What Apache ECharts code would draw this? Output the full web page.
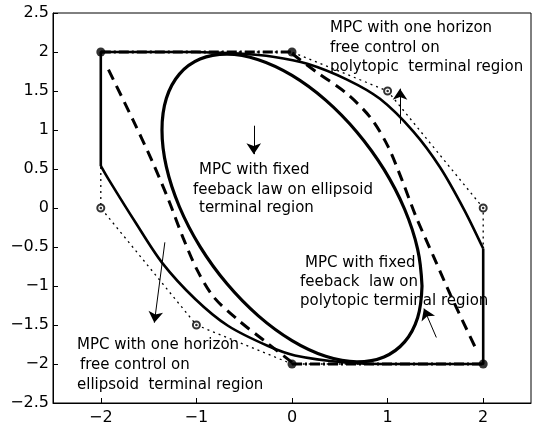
<!DOCTYPE html>
<html><head><meta charset="utf-8">
<script src="https://cdn.jsdelivr.net/npm/echarts@6/dist/echarts.min.js"></script>
<style>html,body{margin:0;padding:0;background:#fff}#c{width:536px;height:428px}</style>
</head><body><div id="c"></div>
<script>
// ---- data ----
const xTicks = [-2, -1, 0, 1, 2];
const polytope = [[-2,2],[0,2],[1,1.5],[2,0],[2,-2],[0,-2],[-1,-1.5],[-2,0],[-2,2]];
const ringVertices = [[1,1.5],[2,0],[-2,0],[-1,-1.5]];
const solidVertices = [[-2,2],[0,2],[2,-2],[0,-2]];
const outerEdgeLeft = [[-2,0.54],[-2,2],[-1,2]];
const outerEdgeRight = [[2,-0.52],[2,-2],[1,-2]];
const outerCurveUpper = [[-1,2],[-0.55,1.98],[-0.2,1.94],[0.16,1.85],[0.57,1.65],[0.92,1.40],[1.27,0.98],[1.55,0.52],[1.80,-0.02],[2,-0.52]];
const outerCurveLower = [[1,-2],[0.55,-1.98],[0.03,-1.89],[-0.25,-1.77],[-0.67,-1.51],[-1.01,-1.17],[-1.36,-0.70],[-1.64,-0.18],[-1.92,0.37],[-2,0.54]];
const ellipse = [[1.36,-1.0],[1.314,-0.526],[1.178,-0.016],[0.962,0.495],[0.68,0.972],[0.352,1.383],[0,1.70],[-0.352,1.901],[-0.68,1.972],[-0.962,1.909],[-1.178,1.716],[-1.314,1.406],[-1.36,1.0],[-1.314,0.526],[-1.178,0.016],[-0.962,-0.495],[-0.68,-0.972],[-0.352,-1.383],[0,-1.70],[0.352,-1.901],[0.68,-1.972],[0.962,-1.909],[1.178,-1.716],[1.314,-1.406],[1.36,-1.0]];
const dashedUpper = [[0,1.98],[0.26,1.74],[0.57,1.47],[0.82,1.16],[1.0,0.80],[1.15,0.36],[1.30,-0.12],[1.48,-0.62],[1.66,-1.12],[1.93,-1.82]];
const dashedLower = [[0,-1.98],[-0.26,-1.73],[-0.56,-1.44],[-0.82,-1.14],[-0.99,-0.80],[-1.14,-0.38],[-1.29,0.10],[-1.47,0.62],[-1.66,1.12],[-1.93,1.80]];
const dashDotTop = [[-2,2],[0,2]];
const dashDotBottom = [[0,-2],[2,-2]];
const arrows = [
  [[-0.40,1.055],[-0.40,0.69]],
  [[1.13,1.08],[1.13,1.53]],
  [[-1.33,-0.44],[-1.44,-1.47]],
  [[1.51,-1.66],[1.38,-1.29]]
];
const annotUR = ["MPC with one horizon","free control on","polytopic  terminal region"];
const annotC  = ["MPC with fixed","feeback law on ellipsoid","terminal region"];
const annotLR = ["MPC with fixed","feeback  law on","polytopic terminal region"];
const annotLL = ["MPC with one horizon","free control on","ellipsoid  terminal region"];

// ---- layout (pixel positions of annotation lines) ----
const posUR = [[330,28],[330,48],[330,67]];
const posC  = [[199,170],[193,190],[199,208]];
const posLR = [[305,263],[300,282],[300,301]];
const posLL = [[77,345],[80,365],[77,385]];

const FONT = '"DejaVu Sans", "Liberation Sans", sans-serif';
const fmt = v => (v < 0 ? '\u2212' + String(-v) : String(v));

function lineS(data, opts) {
  return Object.assign({
    type: 'line', data: data, symbol: 'none', silent: true, animation: false,
    lineStyle: { color: '#000', width: 2.6, type: 'solid' }, z: 3
  }, opts);
}

const texts = [];
[[annotUR,posUR],[annotC,posC],[annotLR,posLR],[annotLL,posLL]].forEach(([lines,pos]) => {
  lines.forEach((t,i) => texts.push({
    type: 'text', x: pos[i][0], y: pos[i][1], z: 100,
    style: { text: t, fill: '#000', fontSize: 15, fontFamily: FONT, align: 'left', verticalAlign: 'middle' }
  }));
});

const chart = echarts.init(document.getElementById('c'), null, { renderer: 'canvas' });
chart.setOption({
  animation: false,
  backgroundColor: '#fff',
  grid: { left: 53, right: 5, top: 13, bottom: 25, show: true, borderColor: '#000', borderWidth: 1, backgroundColor: 'transparent' },
  xAxis: {
    type: 'value', min: -2.5, max: 2.5,
    axisLine: { show: true, onZero: false, lineStyle: { color: '#000', width: 1 } },
    axisTick: { show: true, inside: true, length: 5, customValues: xTicks, lineStyle: { color: '#000' } },
    axisLabel: { customValues: xTicks, formatter: fmt, color: '#000', fontSize: 16, fontFamily: FONT, margin: 7 },
    splitLine: { show: false }
  },
  yAxis: {
    type: 'value', min: -2.5, max: 2.5, interval: 0.5,
    axisLine: { show: true, onZero: false, lineStyle: { color: '#000', width: 1 } },
    axisTick: { show: true, inside: true, length: 5, lineStyle: { color: '#000' } },
    axisLabel: { formatter: fmt, color: '#000', fontSize: 16, fontFamily: FONT, margin: 4 },
    splitLine: { show: false }
  },
  series: [
    lineS(polytope, { lineStyle: { color: '#000', width: 1.3, type: [2, 4] }, z: 2 }),
    lineS(outerEdgeLeft, {}),
    lineS(outerEdgeRight, {}),
    lineS(outerCurveUpper, { smooth: 0.3 }),
    lineS(outerCurveLower, { smooth: 0.3 }),
    lineS(ellipse, { smooth: 0.4, lineStyle: { color: '#000', width: 3.2 } }),
    lineS(dashedUpper, { smooth: 0.3, lineStyle: { color: '#000', width: 3, type: [11, 7] } }),
    lineS(dashedLower, { smooth: 0.3, lineStyle: { color: '#000', width: 3, type: [11, 7] } }),
    lineS(dashDotTop, { lineStyle: { color: '#000', width: 3, type: [10, 3, 2, 3] } }),
    lineS(dashDotBottom, { lineStyle: { color: '#000', width: 3, type: [10, 3, 2, 3] } }),
    { type: 'scatter', data: solidVertices, symbol: 'circle', symbolSize: 9, itemStyle: { color: '#000' }, silent: true, z: 5 },
    { type: 'scatter', data: ringVertices, symbol: 'emptyCircle', symbolSize: 7, itemStyle: { color: '#000', borderWidth: 2 }, silent: true, z: 5 },
    { type: 'scatter', data: ringVertices, symbol: 'circle', symbolSize: 2.5, itemStyle: { color: '#000' }, silent: true, z: 6 },
    {
      type: 'line', data: [], silent: true, z: 7,
      markLine: {
        silent: true, animation: false, symbol: ['none', 'arrow'], symbolSize: 11,
        label: { show: false },
        lineStyle: { color: '#000', width: 1, type: 'solid' },
        itemStyle: { color: '#000' },
        emphasis: { disabled: true },
        data: arrows.map(a => [{ coord: a[0] }, { coord: a[1] }])
      }
    }
  ],
  graphic: texts
});
</script>
</body></html>
